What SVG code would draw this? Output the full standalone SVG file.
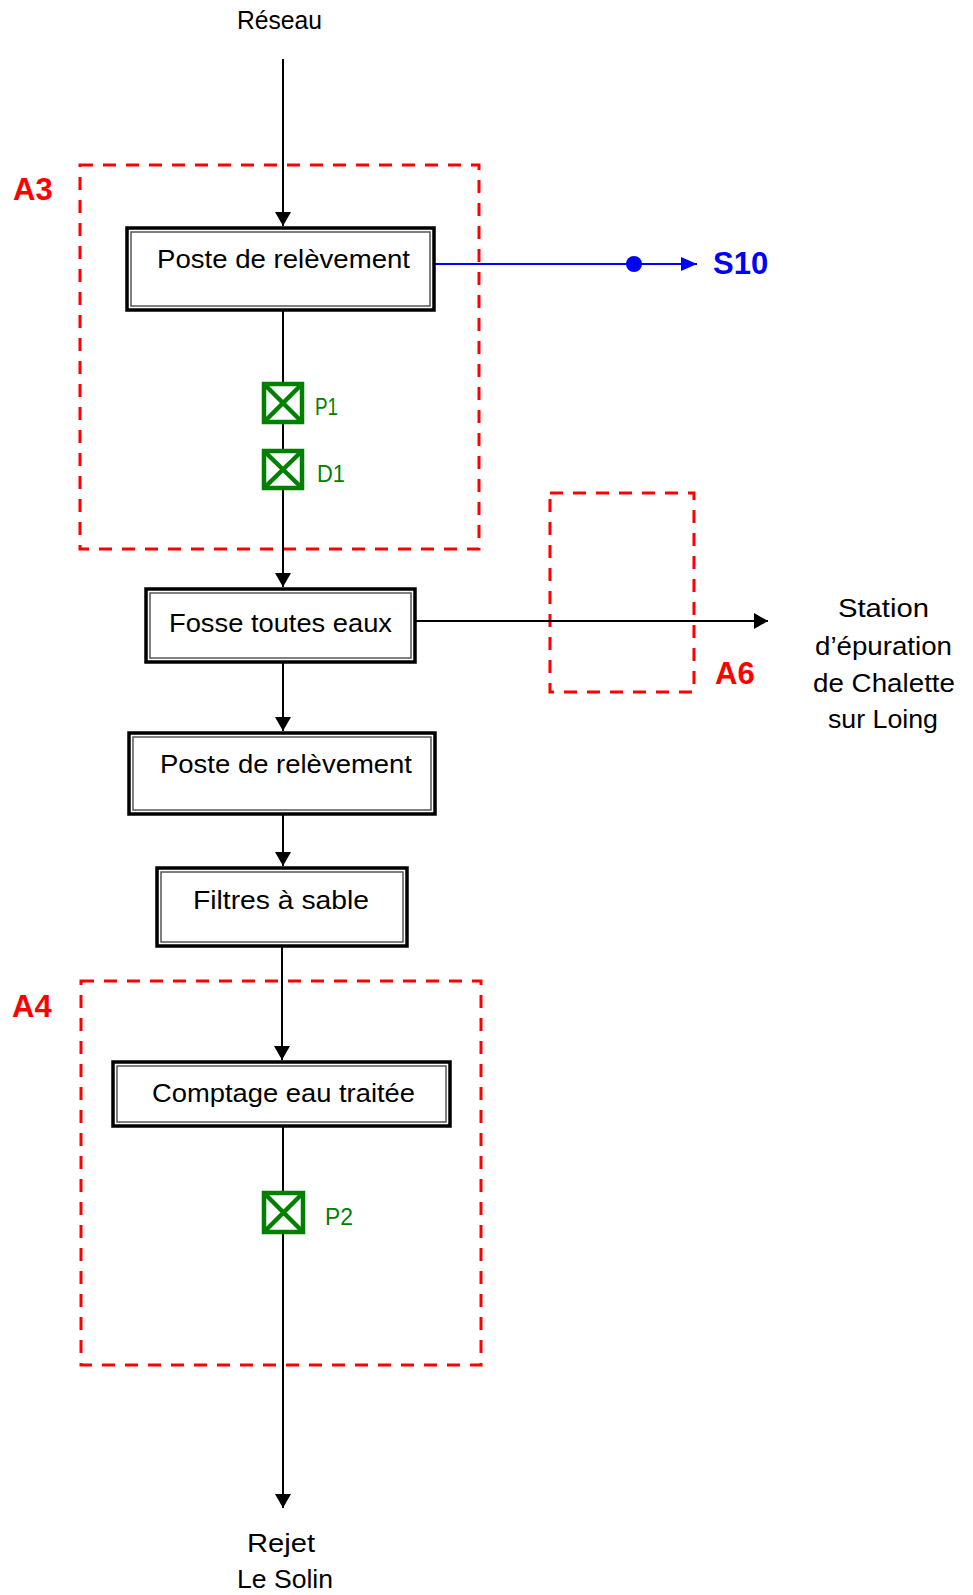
<svg xmlns="http://www.w3.org/2000/svg" width="973" height="1595" viewBox="0 0 973 1595">
<style>
.lbl{font-family:"Liberation Sans","DejaVu Sans",sans-serif;font-size:26px;fill:#000}
.zone{fill:none;stroke:#ff0000;stroke-width:3;stroke-dasharray:13 10}
.zl{font-family:"Liberation Sans",Arial,sans-serif;font-weight:bold;font-size:31px;fill:#ff0000}
.outer{fill:#fff;stroke:#000;stroke-width:3.5}
.inner{fill:none;stroke:#555;stroke-width:1.5}
.ln{stroke:#000;stroke-width:2;fill:none}
.valve{fill:none;stroke:#008000;stroke-width:4.5}
.vl{font-family:"Liberation Sans","DejaVu Sans",sans-serif;font-size:23px;fill:#008000}
</style>
<defs>
<marker id="arr" viewBox="0 0 14 16" refX="14" refY="8" markerWidth="14" markerHeight="16" markerUnits="userSpaceOnUse" orient="auto">
<path d="M0,0 L14,8 L0,16 z" fill="#000"/>
</marker>
<marker id="arrb" viewBox="0 0 16 14" refX="16" refY="7" markerWidth="16" markerHeight="14" markerUnits="userSpaceOnUse" orient="auto">
<path d="M0,0 L16,7 L0,14 z" fill="#0000ff"/>
</marker>
</defs>
<rect width="973" height="1595" fill="#fff"/>

<g id="zones">
<rect class="zone" x="80" y="165" width="399" height="384"/>
<rect class="zone" x="550" y="493" width="144" height="199"/>
<rect class="zone" x="81" y="981" width="400" height="384"/>
<text class="zl" x="13" y="200">A3</text>
<text class="zl" x="715" y="684">A6</text>
<text class="zl" x="12" y="1017">A4</text>
</g>

<g id="connectors">
<line class="ln" x1="283" y1="59" x2="283" y2="226" marker-end="url(#arr)"/>
<line class="ln" x1="283" y1="311" x2="283" y2="382"/>
<line class="ln" x1="283" y1="422" x2="283" y2="449"/>
<line class="ln" x1="283" y1="488" x2="283" y2="587" marker-end="url(#arr)"/>
<line class="ln" x1="416" y1="621" x2="768" y2="621" marker-end="url(#arr)"/>
<line class="ln" x1="283" y1="663" x2="283" y2="731" marker-end="url(#arr)"/>
<line class="ln" x1="283" y1="815" x2="283" y2="866" marker-end="url(#arr)"/>
<line class="ln" x1="282" y1="947" x2="282" y2="1060" marker-end="url(#arr)"/>
<line class="ln" x1="283" y1="1127" x2="283" y2="1191"/>
<line class="ln" x1="283" y1="1232" x2="283" y2="1508" marker-end="url(#arr)"/>
<line x1="435" y1="264" x2="697" y2="264" stroke="#0000ff" stroke-width="2" marker-end="url(#arrb)"/>
<circle cx="634" cy="264" r="8" fill="#0000ff"/>
</g>

<g id="reseau"><text class="lbl" x="237" y="29" textLength="85" lengthAdjust="spacingAndGlyphs">Réseau</text></g>

<g id="poste1">
<rect class="outer" x="127" y="228" width="307" height="82"/>
<rect class="inner" x="131" y="232" width="299" height="74"/>
<text class="lbl" x="157" y="268" textLength="253" lengthAdjust="spacingAndGlyphs">Poste de relèvement</text>
</g>

<g id="s10"><text x="713" y="274" font-family="Liberation Sans,Arial,sans-serif" font-weight="bold" font-size="31" fill="#0000ff">S10</text></g>

<g id="p1">
<rect class="valve" x="264" y="384" width="38" height="38"/>
<path class="valve" d="M264,384 L302,422 M302,384 L264,422"/>
<text class="vl" x="315" y="415" textLength="23" lengthAdjust="spacingAndGlyphs">P1</text>
</g>
<g id="d1">
<rect class="valve" x="264" y="451" width="38" height="37"/>
<path class="valve" d="M264,451 L302,488 M302,451 L264,488"/>
<text class="vl" x="317" y="482" textLength="28" lengthAdjust="spacingAndGlyphs">D1</text>
</g>

<g id="fosse">
<rect class="outer" x="146" y="589" width="269" height="73"/>
<rect class="inner" x="150" y="593" width="261" height="65"/>
<text class="lbl" x="169" y="632" textLength="223" lengthAdjust="spacingAndGlyphs">Fosse toutes eaux</text>
</g>

<g id="station">
<text class="lbl" x="838" y="617" textLength="91" lengthAdjust="spacingAndGlyphs">Station</text>
<text class="lbl" x="815" y="655" textLength="137" lengthAdjust="spacingAndGlyphs">d’épuration</text>
<text class="lbl" x="813" y="692" textLength="142" lengthAdjust="spacingAndGlyphs">de Chalette</text>
<text class="lbl" x="828" y="728" textLength="110" lengthAdjust="spacingAndGlyphs">sur Loing</text>
</g>

<g id="poste2">
<rect class="outer" x="129" y="733" width="306" height="81"/>
<rect class="inner" x="133" y="737" width="298" height="73"/>
<text class="lbl" x="160" y="773" textLength="252" lengthAdjust="spacingAndGlyphs">Poste de relèvement</text>
</g>

<g id="filtres">
<rect class="outer" x="157" y="868" width="250" height="78"/>
<rect class="inner" x="161" y="872" width="242" height="70"/>
<text class="lbl" x="193" y="909" textLength="176" lengthAdjust="spacingAndGlyphs">Filtres à sable</text>
</g>

<g id="comptage">
<rect class="outer" x="113" y="1062" width="337" height="64"/>
<rect class="inner" x="117" y="1066" width="329" height="56"/>
<text class="lbl" x="152" y="1102" textLength="263" lengthAdjust="spacingAndGlyphs">Comptage eau traitée</text>
</g>

<g id="p2">
<rect class="valve" x="264" y="1193" width="39" height="39"/>
<path class="valve" d="M264,1193 L303,1232 M303,1193 L264,1232"/>
<text class="vl" x="325" y="1225" textLength="28" lengthAdjust="spacingAndGlyphs">P2</text>
</g>

<g id="rejet">
<text class="lbl" x="247" y="1552" textLength="68" lengthAdjust="spacingAndGlyphs">Rejet</text>
<text class="lbl" x="237" y="1588" textLength="96" lengthAdjust="spacingAndGlyphs">Le Solin</text>
</g>
</svg>
